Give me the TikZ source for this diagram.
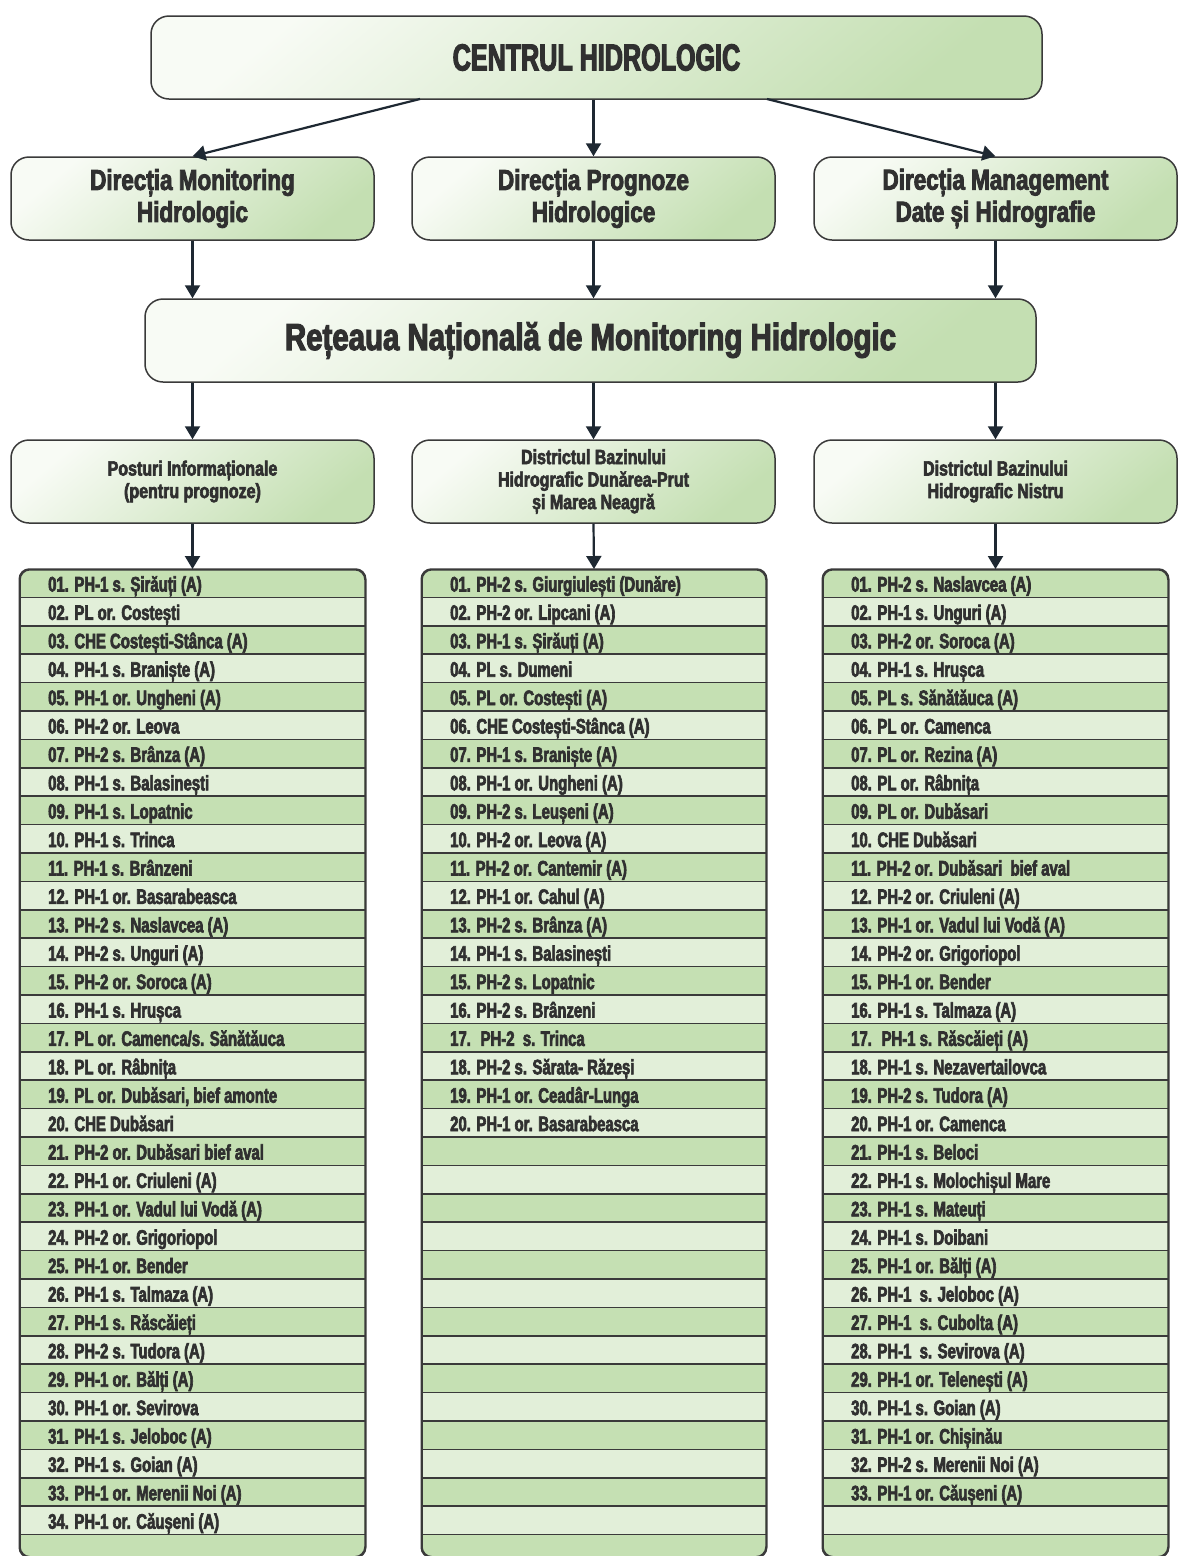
\documentclass[tikz,border=0pt]{standalone}
\usepackage{fontspec}
\setmainfont{Liberation Sans Bold}[FakeStretch=0.78, FakeBold=3]
\newfontfamily\titlufont{Liberation Sans Bold}[FakeStretch=0.67, FakeBold=3]
\newfontfamily\listafont{Liberation Sans Bold}[FakeStretch=0.71, FakeBold=3]
\usetikzlibrary{arrows.meta,positioning}
\definecolor{textgri}{HTML}{303030}
\definecolor{contur}{HTML}{3A3A3A}
\definecolor{sageatacol}{HTML}{1E2832}
\definecolor{verdeinchis}{HTML}{C5E0B3}
\definecolor{verdedeschis}{HTML}{E2EFD9}
\definecolor{cutiesus}{HTML}{F8FBF5}
\definecolor{cutiejos}{HTML}{C4DFB2}
\tikzset{
  cutie/.style={draw=contur, line width=1.5pt, rounded corners=18pt,
    top color=cutiesus, bottom color=cutiejos, shading angle=40,
    minimum height=83pt, inner sep=0pt, text=textgri, align=center},
  titlu/.style={cutie, minimum width=891pt, font=\titlufont\fontsize{37.5}{40}\selectfont},
  antet/.style={cutie, minimum width=363pt, font=\fontsize{28.8}{32}\selectfont},
  retea/.style={cutie, minimum width=891pt, font=\fontsize{37.7}{40}\selectfont},
  district/.style={cutie, minimum width=363pt, font=\fontsize{20.5}{22.5}\selectfont},
  lista/.style={draw=contur, line width=1.5pt, fill=verdeinchis, rounded corners=10pt,
    anchor=north, inner sep=0pt, minimum height=987pt},
  statie/.style={anchor=base west, inner sep=0pt, text=textgri, font=\listafont\fontsize{21}{22}\selectfont},
  sageata/.style={draw=sageatacol, line width=2.2pt, -{Triangle[length=13pt,width=15pt]}}
}
\begin{document}
\begin{tikzpicture}[x=1pt,y=-1pt]
\useasboundingbox (0,0) rectangle (1190,1556);
\fill[white] (0,0) rectangle (1190,1556);
% nivelul de sus
\node[titlu] (centru) at (596.5,57.5) {CENTRUL HIDROLOGIC};
\node[antet] (dirmon) at (192.5,198.5) {Direcția Monitoring\\Hidrologic};
\node[antet] (dirprog) at (593.5,198.5) {Direcția Prognoze\\Hidrologice};
\node[antet] (dirman) at (995.5,198.5) {Direcția Management\\Date și Hidrografie};
\node[retea] (retea) at (590.5,340.5) {Rețeaua Națională de Monitoring Hidrologic};
\node[district] (posturi) at (192.5,481.5) {Posturi Informaționale\\(pentru prognoze)};
\node[district] (dbhdp) at (593.5,481.5) {Districtul Bazinului\\Hidrografic Dunărea-Prut\\și Marea Neagră};
\node[district] (dbhn) at (995.5,481.5) {Districtul Bazinului\\Hidrografic Nistru};
% listele de statii
\node[lista, minimum width=345pt] (lstpost) at (192.5,569) {};
\node[lista, minimum width=344pt] (lstdp) at (594,569) {};
\node[lista, minimum width=345pt] (lstn) at (995.5,569) {};
\foreach \xa/\xb in {20/365, 422/766, 823/1168} {
  \foreach \k in {2,4,...,34}
    \fill[verdedeschis] (\xa+0.75,569+28.4*\k-28.4) rectangle (\xb-0.75,569+28.4*\k);
  \foreach \k in {1,...,34}
    \draw[contur, line width=1.5pt] (\xa,569+28.4*\k) -- (\xb,569+28.4*\k);
}
\draw[contur, line width=1.5pt, rounded corners=10pt] (lstpost.north west) rectangle (lstpost.south east);
\draw[contur, line width=1.5pt, rounded corners=10pt] (lstdp.north west) rectangle (lstdp.south east);
\draw[contur, line width=1.5pt, rounded corners=10pt] (lstn.north west) rectangle (lstn.south east);
\foreach \t [count=\i] in {01. PH-1 s. Șirăuți (A), 02. PL or. Costești, 03. CHE Costești-Stânca (A),
  04. PH-1 s. Braniște (A), 05. PH-1 or. Ungheni (A), 06. PH-2 or. Leova, 07. PH-2 s. Brânza (A),
  08. PH-1 s. Balasinești, 09. PH-1 s. Lopatnic, 10. PH-1 s. Trinca, 11. PH-1 s. Brânzeni,
  12. PH-1 or. Basarabeasca, 13. PH-2 s. Naslavcea (A), 14. PH-2 s. Unguri (A), 15. PH-2 or. Soroca (A),
  16. PH-1 s. Hrușca, 17. PL or. Camenca/s. Sănătăuca, 18. PL or. Râbnița, {19. PL or. Dubăsari, bief amonte},
  20. CHE Dubăsari, 21. PH-2 or. Dubăsari bief aval, 22. PH-1 or. Criuleni (A), 23. PH-1 or. Vadul lui Vodă (A),
  24. PH-2 or. Grigoriopol, 25. PH-1 or. Bender, 26. PH-1 s. Talmaza (A), 27. PH-1 s. Răscăieți,
  28. PH-2 s. Tudora (A), 29. PH-1 or. Bălți (A), 30. PH-1 or. Sevirova, 31. PH-1 s. Jeloboc (A),
  32. PH-1 s. Goian (A), 33. PH-1 or. Merenii Noi (A), 34. PH-1 or. Căușeni (A)}
  \node[statie] (post-\i) at (48,563.1+28.4*\i) {\t};
\foreach \t [count=\i] in {01. PH-2 s. Giurgiulești (Dunăre), 02. PH-2 or. Lipcani (A), 03. PH-1 s. Șirăuți (A),
  04. PL s. Dumeni, 05. PL or. Costești (A), 06. CHE Costești-Stânca (A), 07. PH-1 s. Braniște (A),
  08. PH-1 or. Ungheni (A), 09. PH-2 s. Leușeni (A), 10. PH-2 or. Leova (A), 11. PH-2 or. Cantemir (A),
  12. PH-1 or. Cahul (A), 13. PH-2 s. Brânza (A), 14. PH-1 s. Balasinești, 15. PH-2 s. Lopatnic,
  16. PH-2 s. Brânzeni, 17.~ PH-2~ s. Trinca, 18. PH-2 s. Sărata- Răzeși, 19. PH-1 or. Ceadâr-Lunga,
  20. PH-1 or. Basarabeasca}
  \node[statie] (dp-\i) at (450,563.1+28.4*\i) {\t};
\foreach \t [count=\i] in {01. PH-2 s. Naslavcea (A), 02. PH-1 s. Unguri (A), 03. PH-2 or. Soroca (A),
  04. PH-1 s. Hrușca, 05. PL s. Sănătăuca (A), 06. PL or. Camenca, 07. PL or. Rezina (A),
  08. PL or. Râbnița, 09. PL or. Dubăsari, 10. CHE Dubăsari, 11. PH-2 or. Dubăsari~ bief aval,
  12. PH-2 or. Criuleni (A), 13. PH-1 or. Vadul lui Vodă (A), 14. PH-2 or. Grigoriopol, 15. PH-1 or. Bender,
  16. PH-1 s. Talmaza (A), 17.~ PH-1 s. Răscăieți (A), 18. PH-1 s. Nezavertailovca, 19. PH-2 s. Tudora (A),
  20. PH-1 or. Camenca, 21. PH-1 s. Beloci, 22. PH-1 s. Molochișul Mare, 23. PH-1 s. Mateuți,
  24. PH-1 s. Doibani, 25. PH-1 or. Bălți (A), 26. PH-1~ s. Jeloboc (A), 27. PH-1~ s. Cubolta (A),
  28. PH-1~ s. Sevirova (A), 29. PH-1 or. Telenești (A), 30. PH-1 s. Goian (A), 31. PH-1 or. Chișinău,
  32. PH-2 s. Merenii Noi (A), 33. PH-1 or. Căușeni (A)}
  \node[statie] (n-\i) at (851,563.1+28.4*\i) {\t};
% sagetile
\coordinate (plecst) at (420,99);
\coordinate (plecdr) at (767,99);
\draw[sageata] (plecst) -- (dirmon.north);
\draw[sageata] (dirprog.north |- centru.south) -- (dirprog.north);
\draw[sageata] (plecdr) -- (dirman.north);
\draw[sageata] (dirmon.south) -- (dirmon.south |- retea.north);
\draw[sageata] (dirprog.south) -- (dirprog.south |- retea.north);
\draw[sageata] (dirman.south) -- (dirman.south |- retea.north);
\draw[sageata] (posturi.north |- retea.south) -- (posturi.north);
\draw[sageata] (dbhdp.north |- retea.south) -- (dbhdp.north);
\draw[sageata] (dbhn.north |- retea.south) -- (dbhn.north);
\draw[sageata] (posturi.south) -- (lstpost.north);
\draw[sageata] (dbhdp.south) -- (lstdp.north);
\draw[sageata] (dbhn.south) -- (lstn.north);
\end{tikzpicture}
\end{document}
